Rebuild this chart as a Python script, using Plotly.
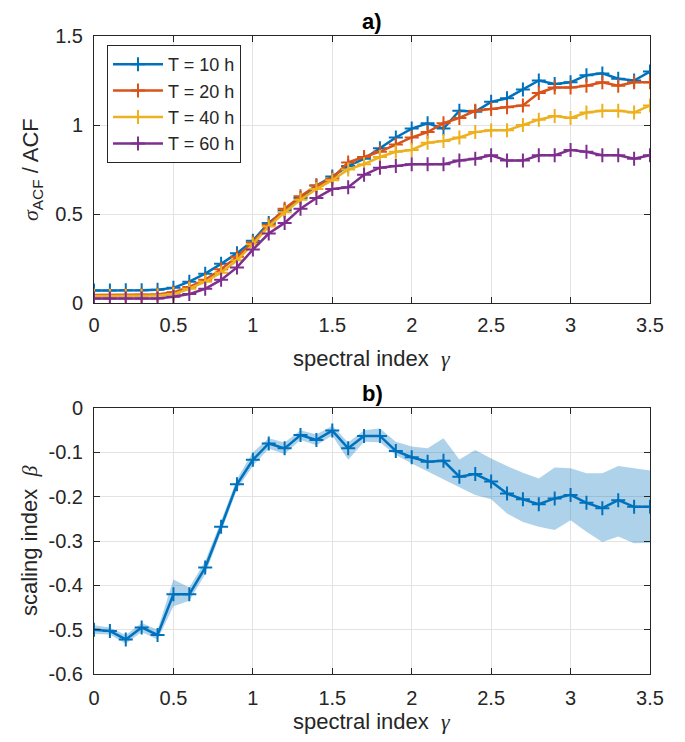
import plotly.graph_objects as go

gamma = [round(0.1 * i, 1) for i in range(36)]

acf_10h = [0.07, 0.07, 0.072, 0.072, 0.075,
           0.085, 0.12, 0.165, 0.22, 0.28,
           0.35, 0.45, 0.52, 0.59, 0.66,
           0.71, 0.77, 0.81, 0.87, 0.93,
           0.98, 1.01, 0.98, 1.08, 1.075,
           1.13, 1.15, 1.2, 1.25, 1.23,
           1.24, 1.28, 1.29, 1.26, 1.25,
           1.3]
acf_20h = [0.045, 0.045, 0.045, 0.046, 0.048,
           0.06, 0.09, 0.13, 0.19, 0.26,
           0.34, 0.44, 0.53, 0.6, 0.66,
           0.7, 0.79, 0.82, 0.85, 0.89,
           0.93, 0.96, 1.01, 1.04, 1.08,
           1.09, 1.1, 1.11, 1.18, 1.21,
           1.21, 1.22, 1.24, 1.22, 1.24,
           1.24]
acf_40h = [0.04, 0.04, 0.04, 0.04, 0.042,
           0.05, 0.08, 0.12, 0.17, 0.24,
           0.33, 0.43, 0.51, 0.58, 0.64,
           0.69, 0.75, 0.78, 0.82, 0.85,
           0.86, 0.9, 0.91, 0.93, 0.96,
           0.97, 0.97, 1.0, 1.03, 1.05,
           1.04, 1.07, 1.08, 1.08, 1.07,
           1.11]
acf_60h = [0.025, 0.025, 0.025, 0.025, 0.025,
           0.035, 0.05, 0.08, 0.13, 0.2,
           0.3, 0.39, 0.45, 0.53, 0.59,
           0.64, 0.65, 0.72, 0.76, 0.77,
           0.78, 0.78, 0.78, 0.8, 0.81,
           0.83, 0.8, 0.8, 0.83, 0.83,
           0.86, 0.85, 0.83, 0.83, 0.81,
           0.83]

beta = [-0.5, -0.503, -0.522, -0.495, -0.512, -0.42, -0.42, -0.36, -0.268, -0.172,
        -0.117, -0.08, -0.091, -0.061, -0.072, -0.051, -0.091, -0.063, -0.063, -0.097,
        -0.111, -0.121, -0.119, -0.155, -0.149, -0.166, -0.193, -0.206, -0.217, -0.204,
        -0.196, -0.214, -0.226, -0.208, -0.223, -0.223]
beta_upper = [-0.49, -0.495, -0.512, -0.485, -0.50, -0.387, -0.405, -0.345, -0.255, -0.16,
              -0.10, -0.068, -0.078, -0.05, -0.06, -0.04, -0.078, -0.05, -0.046, -0.076,
              -0.087, -0.091, -0.068, -0.116, -0.095, -0.114, -0.131, -0.146, -0.159, -0.134,
              -0.136, -0.147, -0.147, -0.131, -0.136, -0.141]
beta_lower = [-0.51, -0.511, -0.532, -0.505, -0.522, -0.447, -0.435, -0.375, -0.28, -0.184,
              -0.13, -0.092, -0.104, -0.072, -0.084, -0.062, -0.117, -0.076, -0.077, -0.106,
              -0.125, -0.144, -0.161, -0.179, -0.196, -0.206, -0.238, -0.257, -0.268, -0.275,
              -0.253, -0.279, -0.302, -0.29, -0.305, -0.304]

series_names = ["T = 10 h", "T = 20 h", "T = 40 h", "T = 60 h"]
series_vals = [acf_10h, acf_20h, acf_40h, acf_60h]
colors = ["#0072BD", "#D95319", "#EDB120", "#7E2F8E"]

x_ticks = [0, 0.5, 1, 1.5, 2, 2.5, 3, 3.5]
x_ticklabels = ["0", "0.5", "1", "1.5", "2", "2.5", "3", "3.5"]
y1_ticks = [0, 0.5, 1, 1.5]
y1_ticklabels = ["0", "0.5", "1", "1.5"]
y2_ticks = [0, -0.1, -0.2, -0.3, -0.4, -0.5, -0.6]
y2_ticklabels = ["0", "-0.1", "-0.2", "-0.3", "-0.4", "-0.5", "-0.6"]

FONT = "Liberation Sans, Arial, sans-serif"
SERIF = "Liberation Serif"
TXT = "#262626"

fig = go.Figure()

for name, vals, c in zip(series_names, series_vals, colors):
    fig.add_trace(go.Scatter(
        x=gamma, y=vals, name=name, mode="lines+markers",
        line=dict(color=c, width=2.5),
        marker=dict(symbol="cross-thin", size=10, line=dict(color=c, width=2)),
        xaxis="x", yaxis="y"))

fig.add_trace(go.Scatter(
    x=gamma + gamma[::-1], y=beta_upper + beta_lower[::-1],
    fill="toself", fillcolor="rgba(0,114,189,0.32)", line=dict(width=0),
    mode="lines", showlegend=False, hoverinfo="skip", xaxis="x2", yaxis="y2"))
fig.add_trace(go.Scatter(
    x=gamma, y=beta, mode="lines+markers", showlegend=False,
    line=dict(color="#0072BD", width=2.5),
    marker=dict(symbol="cross-thin", size=10, line=dict(color="#0072BD", width=2)),
    xaxis="x2", yaxis="y2"))

axis_common = dict(
    showline=True, linecolor=TXT, linewidth=1, mirror="ticks",
    ticks="inside", ticklen=6, tickcolor=TXT,
    showgrid=True, gridcolor="#e3e3e3", gridwidth=1, zeroline=False,
    tickfont=dict(family=FONT, size=20, color=TXT),
)

# paper coords: plot area y from 36 px (1.0) to 674 px (0.0)
def py(pix):
    return (674 - pix) / 638.0

title_font = dict(family=FONT, size=22, color=TXT)
gamma_txt = "spectral index  <span style=\"font-family:'%s'\"><i>γ</i></span>" % SERIF
beta_txt = "scaling index  <span style=\"font-family:'%s'\"><i>β</i></span>" % SERIF
sigma_txt = "<span style=\"font-family:'%s'\"><i>σ</i></span><sub>ACF</sub> / ACF" % SERIF

fig.update_layout(
    width=685, height=742,
    margin=dict(l=94, r=35, t=36, b=68),
    paper_bgcolor="white", plot_bgcolor="white",
    font=dict(family=FONT, size=20, color=TXT),
    xaxis=dict(domain=[0, 1], range=[0, 3.5], tickvals=x_ticks, ticktext=x_ticklabels,
               anchor="y", ticklabelstandoff=4, **axis_common),
    yaxis=dict(domain=[py(303), 1], range=[0, 1.5], tickvals=y1_ticks, ticktext=y1_ticklabels,
               anchor="x", ticklabelstandoff=6, **axis_common),
    xaxis2=dict(domain=[0, 1], range=[0, 3.5], tickvals=x_ticks, ticktext=x_ticklabels,
                anchor="y2", ticklabelstandoff=6, **axis_common),
    yaxis2=dict(domain=[0, py(408)], range=[-0.6, 0], tickvals=y2_ticks, ticktext=y2_ticklabels,
                anchor="x2", ticklabelstandoff=6, **axis_common),
    legend=dict(x=0.0234, y=py(45), xanchor="left", yanchor="top",
                bordercolor=TXT, borderwidth=1, bgcolor="white",
                font=dict(family=FONT, size=18, color=TXT),
                itemwidth=50, tracegroupgap=0),
    showlegend=True,
    annotations=[
        dict(text="<b>a)</b>", x=0.5, y=py(21), xref="paper", yref="paper",
             xanchor="center", yanchor="middle", showarrow=False,
             font=dict(family=FONT, size=22, color="#000000")),
        dict(text="<b>b)</b>", x=0.5, y=py(393), xref="paper", yref="paper",
             xanchor="center", yanchor="middle", showarrow=False,
             font=dict(family=FONT, size=22, color="#000000")),
        dict(text=gamma_txt, x=0.5, y=py(358), xref="paper", yref="paper",
             xanchor="center", yanchor="middle", showarrow=False, font=title_font),
        dict(text=gamma_txt, x=0.5, y=py(721), xref="paper", yref="paper",
             xanchor="center", yanchor="middle", showarrow=False, font=title_font),
        dict(text=sigma_txt, x=0, y=py(170), xref="paper", yref="paper",
             xanchor="center", yanchor="middle", xshift=32 - 94, textangle=-90,
             showarrow=False, font=title_font),
        dict(text=beta_txt, x=0, y=py(541), xref="paper", yref="paper",
             xanchor="center", yanchor="middle", xshift=29 - 94, textangle=-90,
             showarrow=False, font=title_font),
    ],
)

fig.write_html(
    "out.html",
    config={"displayModeBar": False},
    post_script="document.body.style.margin='0';document.body.style.overflow='hidden';",
)
